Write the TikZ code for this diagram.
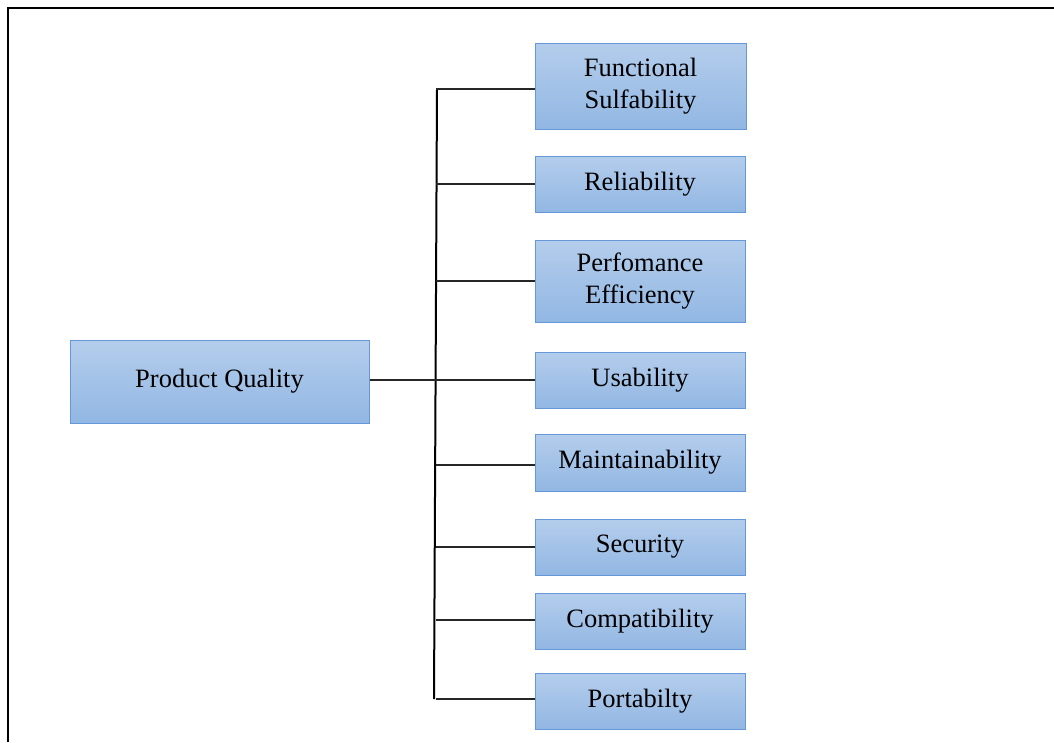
\documentclass[tikz,border=0pt]{standalone}
\usepackage{fontspec}
\setmainfont{Liberation Serif}
\begin{document}
\begin{tikzpicture}[x=1pt,y=-1pt,
  qbox/.style={draw=boxedge, line width=1pt, top color=boxtop, bottom color=boxbot,
    minimum width=210pt, minimum height=56pt, inner sep=0pt, align=center,
    font=\fontsize{26.5}{32}\selectfont},
  branch/.style={line width=1.2pt, black!85},
  trunk/.style={line width=2pt, black}]
\definecolor{boxtop}{RGB}{180,205,236}
\definecolor{boxbot}{RGB}{146,183,227}
\definecolor{boxedge}{RGB}{100,152,216}
\useasboundingbox (0,0) rectangle (1054,742);
% page frame
\draw[line width=2.2pt] (8,742) -- (8,8) -- (1054,8);

% root box
\node[qbox, minimum width=299pt, minimum height=83pt] (pq) at (219.5,381.5) {Product Quality};

% characteristic boxes
\node[qbox, minimum width=211pt, minimum height=86pt] (fs) at (640.5,86) {Functional\\Sulfability};
\node[qbox] (rel) at (640,184) {Reliability};
\node[qbox, minimum height=82pt] (pe) at (640,281) {Perfomance\\Efficiency};
\node[qbox] (usa) at (640,380) {Usability};
\node[qbox, minimum height=57pt] (mai) at (640,462.5) {Maintainability};
\node[qbox] (sec) at (640,547) {Security};
\node[qbox] (com) at (640,621) {Compatibility};
\node[qbox] (por) at (640,701) {Portabilty};

% trunk
\coordinate (ttop) at (437,89);
\coordinate (tbot) at (434,699);
\draw[trunk] (ttop) -- (tbot);
\draw[branch] (pq.east |- 0,380) -- (436,380);

% branches
\foreach \n/\y in {fs/89, rel/184, pe/281, usa/380, mai/465, sec/547, com/620, por/699}{
  \coordinate (j-\n) at (436,\y);
  \draw[branch] (j-\n) -- (j-\n -| \n.west);
}
\end{tikzpicture}
\end{document}
